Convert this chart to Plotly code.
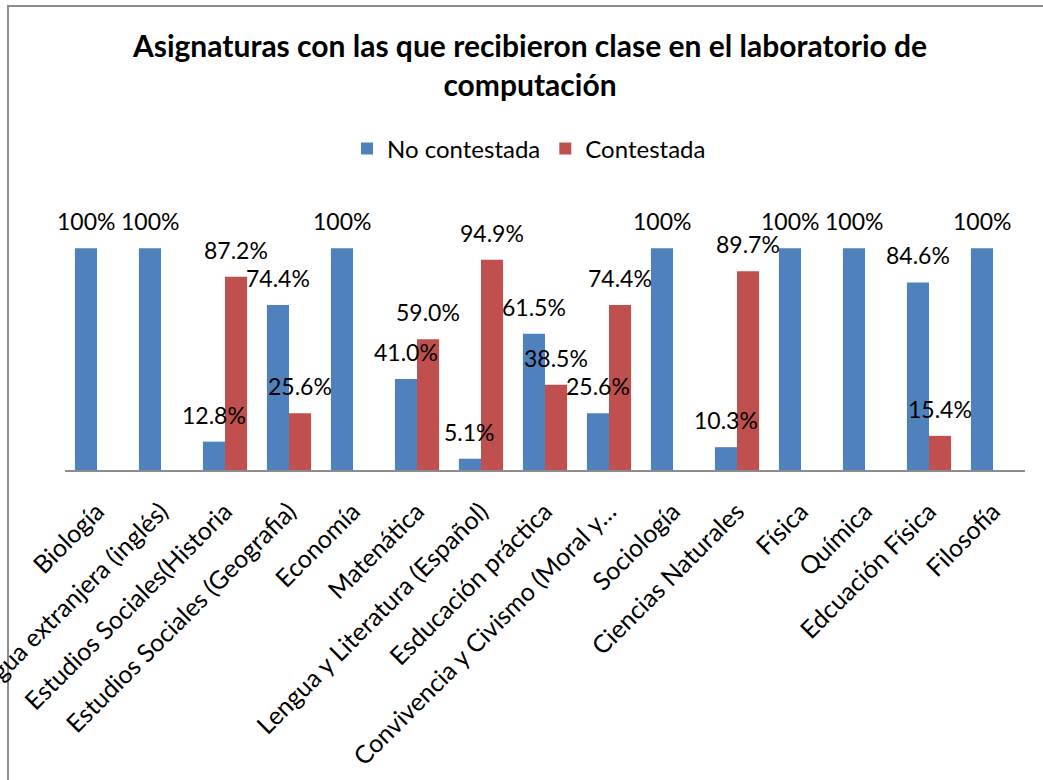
import plotly.graph_objects as go

categories = [
    "Biología", "Lengua extranjera (inglés)", "Estudios Sociales(Historia",
    "Estudios Sociales (Geografia)", "Economía", "Matenática",
    "Lengua y Literatura (Español)", "Esducación práctica",
    "Convivencia y Civismo (Moral y…", "Sociología", "Ciencias Naturales",
    "Física", "Química", "Edcuación Física", "Filosofía",
]
no_contestada = [100, 100, 12.8, 74.4, 100, 41.0, 5.1, 61.5, 25.6, 100, 10.3, 100, 100, 84.6, 100]
contestada = [None, None, 87.2, 25.6, None, 59.0, 94.9, 38.5, 74.4, None, 89.7, None, None, 15.4, None]

series_names = ["No contestada", "Contestada"]
series_colors = ["#4F81BD", "#C0504D"]

FONT = "Lato"
W, H = 1043, 780
BARGAP = 0.31

fig = go.Figure()
for name, vals, col in zip(series_names, [no_contestada, contestada], series_colors):
    fig.add_trace(go.Bar(
        x=categories, y=vals, name=name,
        marker=dict(color=col, line=dict(width=0)),
        hoverinfo="skip",
    ))


def fmt(v):
    return "100%" if v == 100 else f"{v:.1f}%"


bw = (1 - BARGAP) / 2
annotations = []
for si, vals in enumerate([no_contestada, contestada]):
    off = -bw / 2 if si == 0 else bw / 2
    for i, v in enumerate(vals):
        if v is None:
            continue
        annotations.append(dict(
            x=i + off, y=v, xref="x", yref="y", text=fmt(v),
            showarrow=False, yanchor="bottom", xanchor="center", yshift=11,
            font=dict(family=FONT, size=23, color="#000000"),
        ))

fig.update_layout(
    width=W, height=H,
    margin=dict(l=65, r=18, t=204, b=310, autoexpand=False),
    paper_bgcolor="white", plot_bgcolor="white",
    barmode="group", bargap=BARGAP, bargroupgap=0,
    title=dict(
        text="Asignaturas con las que recibieron clase en el laboratorio de<br>computación",
        x=530 / W, xanchor="center", xref="container",
        y=1 - 57 / H, yanchor="top", yref="container",
        font=dict(family=FONT, size=30, color="#000000", weight="bold"),
    ),
    legend=dict(
        orientation="h", x=(529 - 65) / 960, xanchor="center",
        y=(470 - 149) / 266, yanchor="middle",
        font=dict(family=FONT, size=24, color="#000000"),
        bgcolor="rgba(0,0,0,0)",
    ),
    xaxis=dict(
        type="category", range=[-0.5, len(categories) - 0.5],
        tickangle=-45, showline=True, linecolor="#8c8c8c", linewidth=2,
        ticks="", showgrid=False, zeroline=False, ticklabelstandoff=15,
        tickfont=dict(family=FONT, size=25, color="#000000"),
        fixedrange=True,
    ),
    yaxis=dict(visible=False, range=[0, 120], showgrid=False, zeroline=False, fixedrange=True),
    annotations=annotations,
    shapes=[dict(
        type="rect", xref="paper", yref="paper",
        x0=(8 - 65) / 960, x1=(1060 - 65) / 960,
        y0=(470 - 800) / 266, y1=(470 - 6) / 266,
        line=dict(color="#8c8c8c", width=2), fillcolor="rgba(0,0,0,0)", layer="below",
    )],
    font=dict(family=FONT),
)

fig.write_html(
    "out.html",
    config={"displayModeBar": False},
    post_script="document.body.style.margin='0';document.body.style.overflow='hidden';",
)
